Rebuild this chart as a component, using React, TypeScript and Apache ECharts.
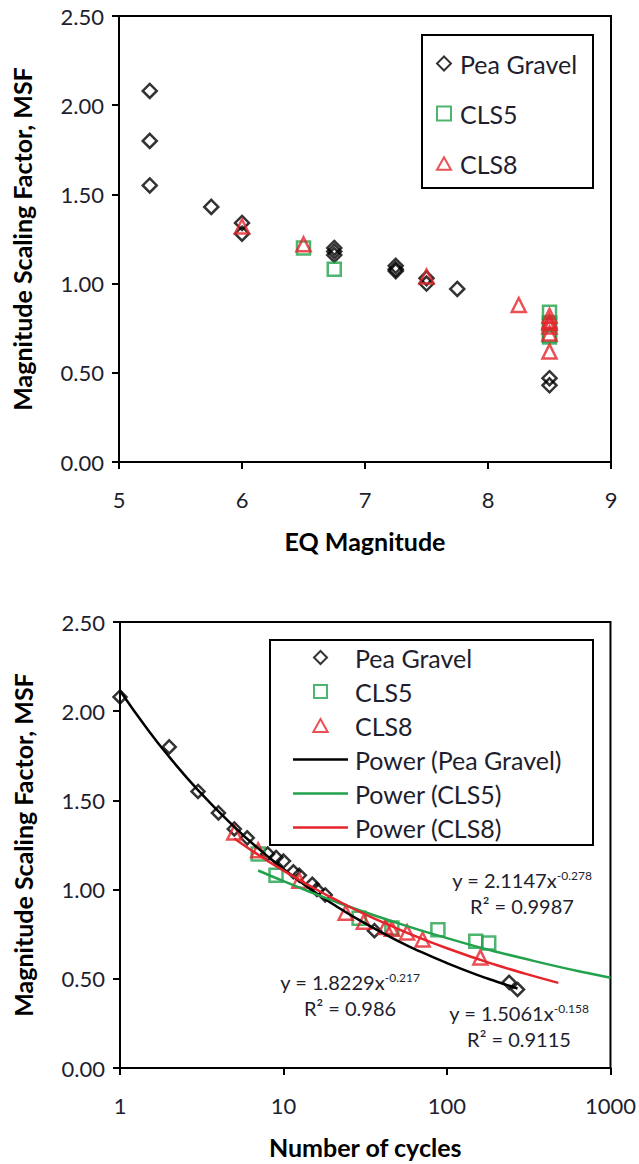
import React, { useEffect, useRef } from "react";
import * as echarts from "echarts";

const FONT = "Lato, 'Open Sans', sans-serif";
const TXT = "#1e1e2e";
const BLACK = "#000000";
const GREEN = "#22a24c";
const RED = "#e5242b";

// ---- Top chart: MSF vs EQ magnitude ----
const peaGravelMag: [number, number][] = [
  [5.25, 2.08], [5.25, 1.8], [5.25, 1.55], [5.75, 1.43], [6, 1.34], [6, 1.28],
  [6.75, 1.2], [6.75, 1.18], [6.75, 1.16], [7.25, 1.1], [7.25, 1.08], [7.25, 1.07],
  [7.5, 1.03], [7.5, 1.0], [7.75, 0.97], [8.5, 0.47], [8.5, 0.43],
];
const cls5Mag: [number, number][] = [
  [6.5, 1.2], [6.75, 1.08], [8.5, 0.84], [8.5, 0.78], [8.5, 0.77], [8.5, 0.71], [8.5, 0.7],
];
const cls8Mag: [number, number][] = [
  [6, 1.32], [6.5, 1.22], [7.5, 1.04], [8.25, 0.88], [8.5, 0.82], [8.5, 0.79],
  [8.5, 0.78], [8.5, 0.76], [8.5, 0.72], [8.5, 0.62],
];

// ---- Bottom chart: MSF vs number of cycles ----
const peaGravelCyc: [number, number][] = [
  [1, 2.08], [2, 1.8], [3, 1.55], [4, 1.43], [5, 1.34], [6, 1.29], [8, 1.2], [9, 1.18],
  [10, 1.16], [11.5, 1.1], [12.5, 1.08], [15, 1.03], [16, 1.0], [18, 0.97], [36, 0.77],
  [240, 0.48], [270, 0.44],
];
const cls5Cyc: [number, number][] = [
  [7, 1.2], [9, 1.08], [29, 0.84], [46, 0.785], [88, 0.775], [150, 0.71], [180, 0.7],
];
const cls8Cyc: [number, number][] = [
  [5, 1.32], [7, 1.22], [12.5, 1.05], [24, 0.87], [31, 0.82], [42, 0.79], [46, 0.78],
  [57, 0.76], [71, 0.72], [160, 0.62],
];

// Power trendlines
const powerPeaGravel: [number, number][] = [
  [1, 2.115], [1.5, 1.889], [2, 1.744], [3, 1.558], [5, 1.352], [7, 1.231], [10, 1.115],
  [15, 0.996], [20, 0.919], [30, 0.822], [50, 0.713], [70, 0.649], [100, 0.588],
  [150, 0.525], [200, 0.485], [270, 0.446],
];
const powerCls5: [number, number][] = [
  [7, 1.107], [10, 1.047], [15, 0.982], [20, 0.938], [30, 0.88], [50, 0.812], [70, 0.77],
  [100, 0.728], [150, 0.682], [200, 0.652], [300, 0.612], [500, 0.564], [700, 0.535],
  [1000, 0.506],
];
const powerCls8: [number, number][] = [
  [5, 1.286], [7, 1.195], [10, 1.106], [15, 1.013], [20, 0.952], [30, 0.871], [50, 0.78],
  [70, 0.725], [100, 0.671], [150, 0.615], [200, 0.577], [300, 0.529], [480, 0.477],
];

const magTicks = [5, 6, 7, 8, 9];
const cycleTicks = [1, 10, 100, 1000];

const equations = [
  { main: "y = 2.1147x", sup: "-0.278", r2: "R² = 0.9987", x: 522, y: 880 },
  { main: "y = 1.8229x", sup: "-0.217", r2: "R² = 0.986", x: 350, y: 982 },
  { main: "y = 1.5061x", sup: "-0.158", r2: "R² = 0.9115", x: 519, y: 1013 },
];

const ICON_DIAMOND = "path://M1,0L2,1L1,2L0,1Z";
const ICON_SQUARE = "path://M0,0L2,0L2,2L0,2Z";
const ICON_TRIANGLE = "path://M1,0L2,1.8L0,1.8Z";
const ICON_LINE = "path://M0,0L55,0L55,2.5L0,2.5Z";

const axisLine = { show: true, onZero: false, lineStyle: { color: BLACK, width: 2 } };
const axisTick = { show: true, inside: false, length: 7, lineStyle: { color: BLACK, width: 2 } };

export default function App() {
  const ref = useRef<HTMLDivElement>(null);
  useEffect(() => {
    document.body.style.margin = "0";
    if (!ref.current) return;
    const chart = echarts.init(ref.current, undefined, { renderer: "svg" });

    const hollow = (color: string) => ({
      color: "rgba(255,255,255,0)",
      borderColor: color,
      borderWidth: 2.5,
    });

    const yAxisCommon = (gridIndex: number) => ({
      type: "value",
      gridIndex,
      min: 0,
      max: 2.5,
      interval: 0.5,
      axisLine,
      axisTick,
      splitLine: { show: false },
      axisLabel: {
        margin: 15,
        fontSize: 22,
        color: TXT,
        fontFamily: FONT,
        formatter: (v: number) => v.toFixed(2),
      },
      name: "Magnitude Scaling Factor, MSF",
      nameLocation: "middle",
      nameGap: 85,
      nameRotate: 90,
      nameTextStyle: { fontSize: 25, fontWeight: "bold", color: BLACK, fontFamily: FONT },
    });

    const eqGraphics: any[] = [];
    equations.forEach((e) => {
      eqGraphics.push({
        type: "text",
        x: e.x,
        y: e.y,
        style: {
          text: `{a|${e.main}}{s|${e.sup}}`,
          align: "center",
          verticalAlign: "middle",
          fill: TXT,
          rich: {
            a: { fontSize: 20, fontFamily: FONT, fill: TXT, lineHeight: 22 },
            s: { fontSize: 12, fontFamily: FONT, fill: TXT, verticalAlign: "top", lineHeight: 22 },
          },
        },
        z: 100,
      });
      eqGraphics.push({
        type: "text",
        x: e.x,
        y: e.y + 26,
        style: {
          text: e.r2,
          align: "center",
          verticalAlign: "middle",
          fill: TXT,
          font: `20px ${FONT}`,
        },
        z: 100,
      });
    });

    chart.setOption({
      animation: false,
      backgroundColor: "#ffffff",
      textStyle: { fontFamily: FONT },
      grid: [
        { left: 119, top: 16, width: 492, height: 446, show: true, borderColor: BLACK, borderWidth: 2, backgroundColor: "transparent" },
        { left: 120, top: 622, width: 492, height: 446, show: true, borderColor: BLACK, borderWidth: 2, backgroundColor: "transparent" },
      ],
      xAxis: [
        {
          type: "value",
          gridIndex: 0,
          min: magTicks[0],
          max: magTicks[magTicks.length - 1],
          interval: 1,
          axisLine,
          axisTick,
          splitLine: { show: false },
          axisLabel: { margin: 26, fontSize: 22, color: TXT, fontFamily: FONT },
          name: "EQ Magnitude",
          nameLocation: "middle",
          nameGap: 66,
          nameTextStyle: { fontSize: 25, fontWeight: "bold", color: BLACK, fontFamily: FONT },
        },
        {
          type: "log",
          logBase: 10,
          gridIndex: 1,
          min: cycleTicks[0],
          max: cycleTicks[cycleTicks.length - 1],
          axisLine,
          axisTick,
          minorTick: { show: false },
          splitLine: { show: false },
          axisLabel: { margin: 26, fontSize: 22, color: TXT, fontFamily: FONT, formatter: (v: number) => String(Math.round(v)) },
          name: "Number of cycles",
          nameLocation: "middle",
          nameGap: 66,
          nameTextStyle: { fontSize: 25, fontWeight: "bold", color: BLACK, fontFamily: FONT },
        },
      ],
      yAxis: [yAxisCommon(0), yAxisCommon(1)],
      legend: [
        {
          orient: "vertical",
          left: 436,
          top: 51,
          itemWidth: 14,
          itemHeight: 14,
          itemGap: 25,
          padding: 0,
          symbolKeepAspect: true,
          textStyle: { fontSize: 25, color: TXT, fontFamily: FONT, lineHeight: 25, padding: [0, 0, 0, 4] },
          data: [
            { name: "Pea Gravel", icon: ICON_DIAMOND },
            { name: "CLS5", icon: ICON_SQUARE },
            { name: "CLS8", icon: ICON_TRIANGLE },
          ],
          selectedMode: false,
        },
        {
          orient: "vertical",
          left: 293,
          top: 645,
          itemWidth: 55,
          itemHeight: 13,
          itemGap: 9,
          padding: 0,
          symbolKeepAspect: true,
          textStyle: { fontSize: 25, color: TXT, fontFamily: FONT, lineHeight: 25, padding: [0, 0, 0, 2] },
          data: [
            { name: "Pea Gravel", icon: ICON_DIAMOND },
            { name: "CLS5", icon: ICON_SQUARE },
            { name: "CLS8", icon: ICON_TRIANGLE },
            { name: "Power (Pea Gravel)", icon: ICON_LINE },
            { name: "Power (CLS5)", icon: ICON_LINE },
            { name: "Power (CLS8)", icon: ICON_LINE },
          ],
          selectedMode: false,
        },
      ],
      graphic: [
        { type: "rect", shape: { x: 422, y: 35, width: 171, height: 153 }, style: { fill: "none", stroke: BLACK, lineWidth: 2 }, z: 50 },
        { type: "rect", shape: { x: 270, y: 640, width: 323, height: 205 }, style: { fill: "#ffffff", stroke: BLACK, lineWidth: 2 }, z: 0 },
        ...eqGraphics,
      ],
      series: [
        { name: "Pea Gravel", type: "scatter", xAxisIndex: 0, yAxisIndex: 0, symbol: "diamond", symbolSize: 14, itemStyle: hollow(BLACK), data: peaGravelMag },
        { name: "CLS5", type: "scatter", xAxisIndex: 0, yAxisIndex: 0, symbol: "rect", symbolSize: 13, itemStyle: hollow(GREEN), data: cls5Mag },
        { name: "CLS8", type: "scatter", xAxisIndex: 0, yAxisIndex: 0, symbol: "triangle", symbolSize: 14, itemStyle: hollow(RED), data: cls8Mag },
        { name: "Pea Gravel", type: "scatter", xAxisIndex: 1, yAxisIndex: 1, symbol: "diamond", symbolSize: 13, itemStyle: hollow(BLACK), data: peaGravelCyc },
        { name: "CLS5", type: "scatter", xAxisIndex: 1, yAxisIndex: 1, symbol: "rect", symbolSize: 13, itemStyle: hollow(GREEN), data: cls5Cyc },
        { name: "CLS8", type: "scatter", xAxisIndex: 1, yAxisIndex: 1, symbol: "triangle", symbolSize: 14, itemStyle: hollow(RED), data: cls8Cyc },
        { name: "Power (Pea Gravel)", type: "line", xAxisIndex: 1, yAxisIndex: 1, smooth: true, symbol: "none", z: 5, lineStyle: { color: BLACK, width: 2.5 }, itemStyle: { color: BLACK, borderWidth: 0 }, data: powerPeaGravel },
        { name: "Power (CLS5)", type: "line", xAxisIndex: 1, yAxisIndex: 1, smooth: true, symbol: "none", z: 5, lineStyle: { color: GREEN, width: 2.5 }, itemStyle: { color: GREEN, borderWidth: 0 }, data: powerCls5 },
        { name: "Power (CLS8)", type: "line", xAxisIndex: 1, yAxisIndex: 1, smooth: true, symbol: "none", z: 5, lineStyle: { color: RED, width: 2.5 }, itemStyle: { color: RED, borderWidth: 0 }, data: powerCls8 },
      ],
    });
    return () => chart.dispose();
  }, []);
  return <div ref={ref} style={{ width: 639, height: 1164 }} />;
}
